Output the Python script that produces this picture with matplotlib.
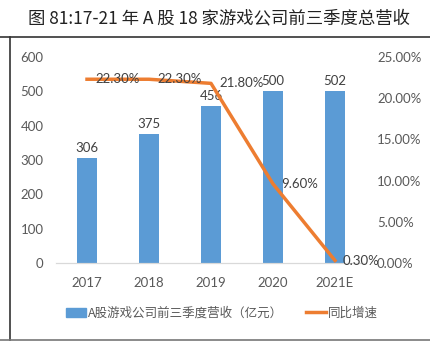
import numpy as np
import matplotlib
matplotlib.use("Agg")
from matplotlib import pyplot as plt
from matplotlib.lines import Line2D
from matplotlib.patches import Patch

plt.rcParams['font.family'] = ['Lato', 'Noto Sans CJK SC', 'DejaVu Sans']

years = ["2017", "2018", "2019", "2020", "2021E"]
revenue = [306, 375, 456, 500, 502]
growth = [22.3, 22.3, 21.8, 9.6, 0.3]
growth_labels = ["22.30%", "22.30%", "21.80%", "9.60%", "0.30%"]

W, H = 431, 355
fig = plt.figure(figsize=(W / 100, H / 100), dpi=100)
ax = fig.add_axes([56 / W, 1 - 263 / H, 310 / W, 206 / H])
ax2 = ax.twinx()

bar_color = "#5B9BD5"
line_color = "#ED7D31"
text_color = "#595959"

x = np.arange(len(years))
ax.bar(x, revenue, width=0.32, color=bar_color, zorder=2)
ax.set_xlim(-0.5, 4.5)
ax.set_ylim(0, 600)
ax.set_yticks(range(0, 601, 100))
ax.set_xticks(x)
ax.set_xticklabels(years)
for r, xi in zip(revenue, x):
    ax.annotate(str(r), (xi, r), xytext=(0, 4), textcoords="offset pixels",
                ha="center", va="bottom", fontsize=9.5, color="#404040", zorder=3)

ax2.plot(x, growth, color=line_color, lw=2.5, zorder=4)
ax2.set_ylim(0, 25)
ax2.set_yticks(range(0, 26, 5))
ax2.set_yticklabels([f"{v:.2f}%" for v in range(0, 26, 5)])
for g, lab, xi in zip(growth, growth_labels, x):
    ax2.annotate(lab, (xi, g), xytext=(8, 0), textcoords="offset pixels",
                 ha="left", va="center", fontsize=9.5, color="#404040", zorder=5)

for a in (ax, ax2):
    for s in ("top", "left", "right"):
        a.spines[s].set_visible(False)
    a.spines["bottom"].set_color("#D9D9D9")
    a.tick_params(length=0, labelsize=9.5, labelcolor=text_color)
ax.tick_params(axis="x", pad=10)
ax.tick_params(axis="y", pad=9)
ax2.tick_params(axis="y", pad=8)
ax.set_zorder(1)
ax2.set_zorder(2)

handles = [Patch(color=bar_color), Line2D([0], [0], color=line_color, lw=2.5)]
labels = ["A股游戏公司前三季度营收（亿元）", "同比增速"]
fig.legend(handles, labels, loc="center", bbox_to_anchor=(222 / W, 1 - 313 / H),
           ncol=2, frameon=False, handlelength=1.6, handleheight=0.7,
           handletextpad=0.1, columnspacing=1.9,
           prop={"family": ["Noto Sans CJK SC", "DejaVu Sans"], "size": 9},
           labelcolor=text_color)

fig.text(219 / W, 1 - 18 / H, "图 81:17-21 年 A 股 18 家游戏公司前三季度总营收",
         ha="center", va="center", fontsize=12.5, weight="light",
         family=["Noto Sans CJK SC", "DejaVu Sans"], color="#222222")

fig.add_artist(Line2D([0, 1], [1 - 37 / H, 1 - 37 / H], color="#333333", lw=1.2))
fig.add_artist(Line2D([10 / W, 10 / W], [1 - 340 / H, 1 - 37 / H], color="#333333", lw=1.2))
fig.add_artist(Line2D([0, 1], [1 - 340 / H, 1 - 340 / H], color="#777777", lw=1.2))

fig.savefig("out.png", dpi=100)
